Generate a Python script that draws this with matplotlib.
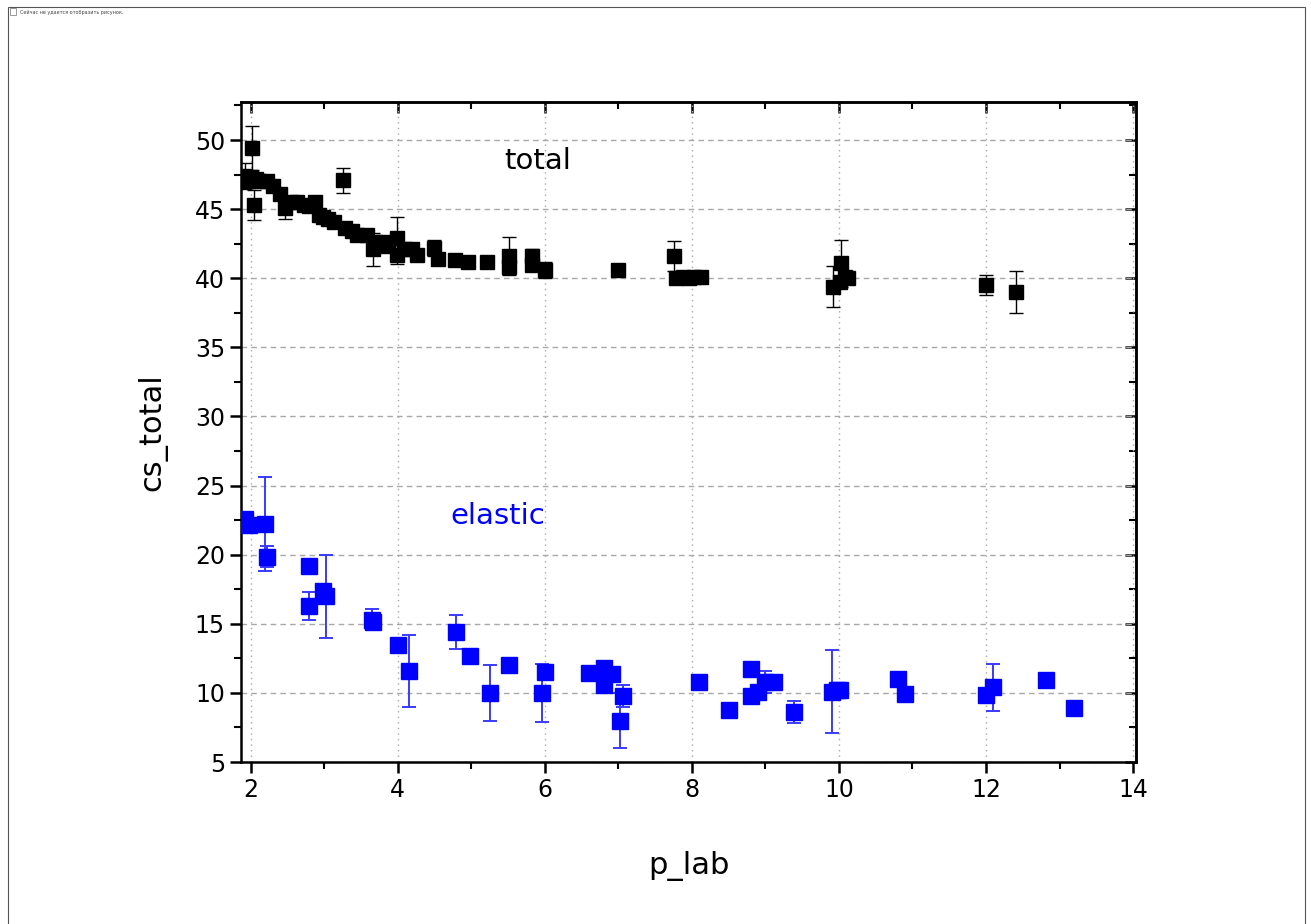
import matplotlib
matplotlib.use("Agg")
import matplotlib.pyplot as plt
from matplotlib.ticker import MultipleLocator, NullFormatter
from matplotlib.patches import Rectangle

# ---- data: total cross section ----
total_x = [1.92, 1.96, 2.00, 2.02, 2.04, 2.07, 2.12, 2.23, 2.30, 2.40, 2.47, 2.55,
           2.63, 2.72, 2.80, 2.88, 2.93, 2.98, 3.05, 3.13, 3.26, 3.29, 3.38, 3.45,
           3.58, 3.67, 3.69, 3.80, 3.87, 3.99, 3.99, 4.10, 4.19, 4.26, 4.50, 4.55,
           4.78, 4.96, 5.22, 5.52, 5.52, 5.83, 5.83, 6.00, 7.00, 7.76, 7.78, 7.88,
           7.96, 8.03, 8.12, 9.92, 10.01, 10.03, 10.08, 10.12, 12.00, 12.41]
total_y = [47.4, 47.0, 47.3, 49.4, 45.3, 47.2, 47.0, 47.0, 46.7, 46.1, 45.05, 45.5,
           45.5, 45.3, 45.2, 45.5, 44.6, 44.4, 44.3, 44.1, 47.1, 43.6, 43.4, 43.1,
           43.1, 42.1, 42.6, 42.6, 42.3, 42.9, 41.7, 42.1, 42.1, 41.7, 42.2, 41.4,
           41.35, 41.15, 41.15, 41.6, 40.8, 41.6, 40.95, 40.6, 40.6, 41.6, 40.0, 40.1,
           40.0, 40.1, 40.1, 39.4, 39.7, 41.1, 40.1, 40.0, 39.5, 39.0]
total_err = [0.95, 0, 0, 1.6, 1.1, 0, 0, 0, 0, 0, 0.8, 0,
             0, 0, 0, 0, 0, 0, 0, 0, 0.9, 0, 0, 0,
             0, 1.2, 0, 0, 0, 1.5, 0.7, 0, 0, 0, 0.6, 0,
             0, 0, 0, 1.4, 0.3, 0.5, 0, 0.6, 0, 1.1, 0.4, 0,
             0, 0, 0, 1.5, 0, 1.7, 0, 0, 0.7, 1.5]

# ---- data: elastic cross section ----
el_x = [1.93, 1.98, 2.19, 2.22, 2.80, 2.79, 2.99, 3.02, 3.65, 3.66, 4.00, 4.15,
        4.79, 4.99, 5.25, 5.51, 5.96, 6.00, 6.60, 6.80, 6.92, 6.80, 7.07, 7.03,
        8.10, 8.50, 8.80, 8.80, 8.90, 9.00, 9.12, 9.39, 9.90, 9.98, 10.02, 10.81,
        10.90, 12.00, 12.10, 12.81, 13.20]
el_y = [22.6, 22.15, 22.2, 19.85, 19.2, 16.3, 17.4, 17.0, 15.3, 15.1, 13.5, 11.6,
        14.4, 12.7, 10.0, 12.0, 10.0, 11.5, 11.45, 11.8, 11.4, 10.55, 9.8, 8.0,
        10.8, 8.75, 11.7, 9.8, 10.1, 10.8, 10.8, 8.6, 10.1, 10.2, 10.2, 11.0,
        9.9, 9.85, 10.4, 10.9, 8.9]
el_err = [0, 0, 3.4, 0.75, 0, 1.0, 0.45, 3.0, 0.75, 0, 0, 2.6,
          1.2, 0, 2.0, 0, 2.1, 0, 0, 0, 0, 0, 0.8, 2.0,
          0, 0, 0, 0, 0, 0.8, 0, 0.8, 3.0, 0, 0, 0,
          0, 0, 1.7, 0, 0]

x_ticks = [2, 4, 6, 8, 10, 12, 14]
y_ticks = [5, 10, 15, 20, 25, 30, 35, 40, 45, 50]

fig = plt.figure(figsize=(13.11, 9.24), dpi=100)

# frame / broken-image placeholder around figure
fig.patches.append(Rectangle((8 / 1311, -0.01), 1297 / 1311, 1.01 - 7 / 924,
                             transform=fig.transFigure, fill=False,
                             edgecolor="#555555", lw=0.8))
fig.text(20 / 1311, 1 - 12 / 924, "Сейчас не удается отобразить рисунок.",
         fontsize=3.5, color="#444444", va="center")
fig.patches.append(Rectangle((10 / 1311, 1 - 15 / 924), 6 / 1311, 7 / 924,
                             transform=fig.transFigure, fill=False,
                             edgecolor="#888888", lw=0.6))

ax = fig.add_axes([241 / 1311, 1 - 762 / 924, (1136 - 241) / 1311, (762 - 102) / 924])

ax.errorbar(total_x, total_y, yerr=total_err, fmt="s", color="black",
            ms=9.5, mec="black", mfc="black", ecolor="black", elinewidth=1.0,
            capsize=4.7, capthick=1.0, zorder=3)
ax.errorbar(el_x, el_y, yerr=el_err, fmt="s", color="#0000ff",
            ms=11, mec="#0000ff", mfc="#0000ff", ecolor="#3a3aff", elinewidth=1.4,
            capsize=5.2, capthick=1.4, zorder=3)

ax.set_xlim(1.87, 14.04)
ax.set_ylim(5, 52.75)
ax.set_xticks(x_ticks)
ax.set_yticks(y_ticks)
ax.xaxis.set_minor_locator(MultipleLocator(1))
ax.yaxis.set_minor_locator(MultipleLocator(2.5))

ax.grid(axis="y", which="major", ls=(0, (4, 3)), color="#a8a8a8", lw=1.0, zorder=0)
ax.grid(axis="x", which="major", ls=(0, (1, 3)), color="#a8a8a8", lw=1.0, zorder=0)

for s in ax.spines.values():
    s.set_linewidth(1.8)

ax.tick_params(axis="both", which="major", labelsize=17, width=1.8, length=8,
               direction="out", top=False, right=False)
ax.tick_params(axis="both", which="minor", width=1.5, length=5,
               direction="out", top=False, right=False)

# inward ticks on top and right
sx = ax.secondary_xaxis("top")
sx.set_xticks(x_ticks)
sx.xaxis.set_minor_locator(MultipleLocator(1))
sx.xaxis.set_major_formatter(NullFormatter())
sx.tick_params(axis="x", which="major", direction="in", length=8, width=1.8)
sx.tick_params(axis="x", which="minor", direction="in", length=5, width=1.5)
sx.spines["top"].set_linewidth(1.8)

sy = ax.secondary_yaxis("right")
sy.set_yticks(y_ticks)
sy.yaxis.set_minor_locator(MultipleLocator(2.5))
sy.yaxis.set_major_formatter(NullFormatter())
sy.tick_params(axis="y", which="major", direction="in", length=8, width=1.8)
sy.tick_params(axis="y", which="minor", direction="in", length=5, width=1.5)
sy.spines["right"].set_linewidth(1.8)

ax.set_xlabel("p_lab", fontsize=22, labelpad=35)
ax.set_ylabel("cs_total", fontsize=22, labelpad=20)

ax.text(5.9, 48.5, "total", fontsize=21, color="black", ha="center", va="center")
ax.text(5.36, 22.8, "elastic", fontsize=21, color="#0000ff", ha="center", va="center")

fig.savefig("out.png", dpi=100)
